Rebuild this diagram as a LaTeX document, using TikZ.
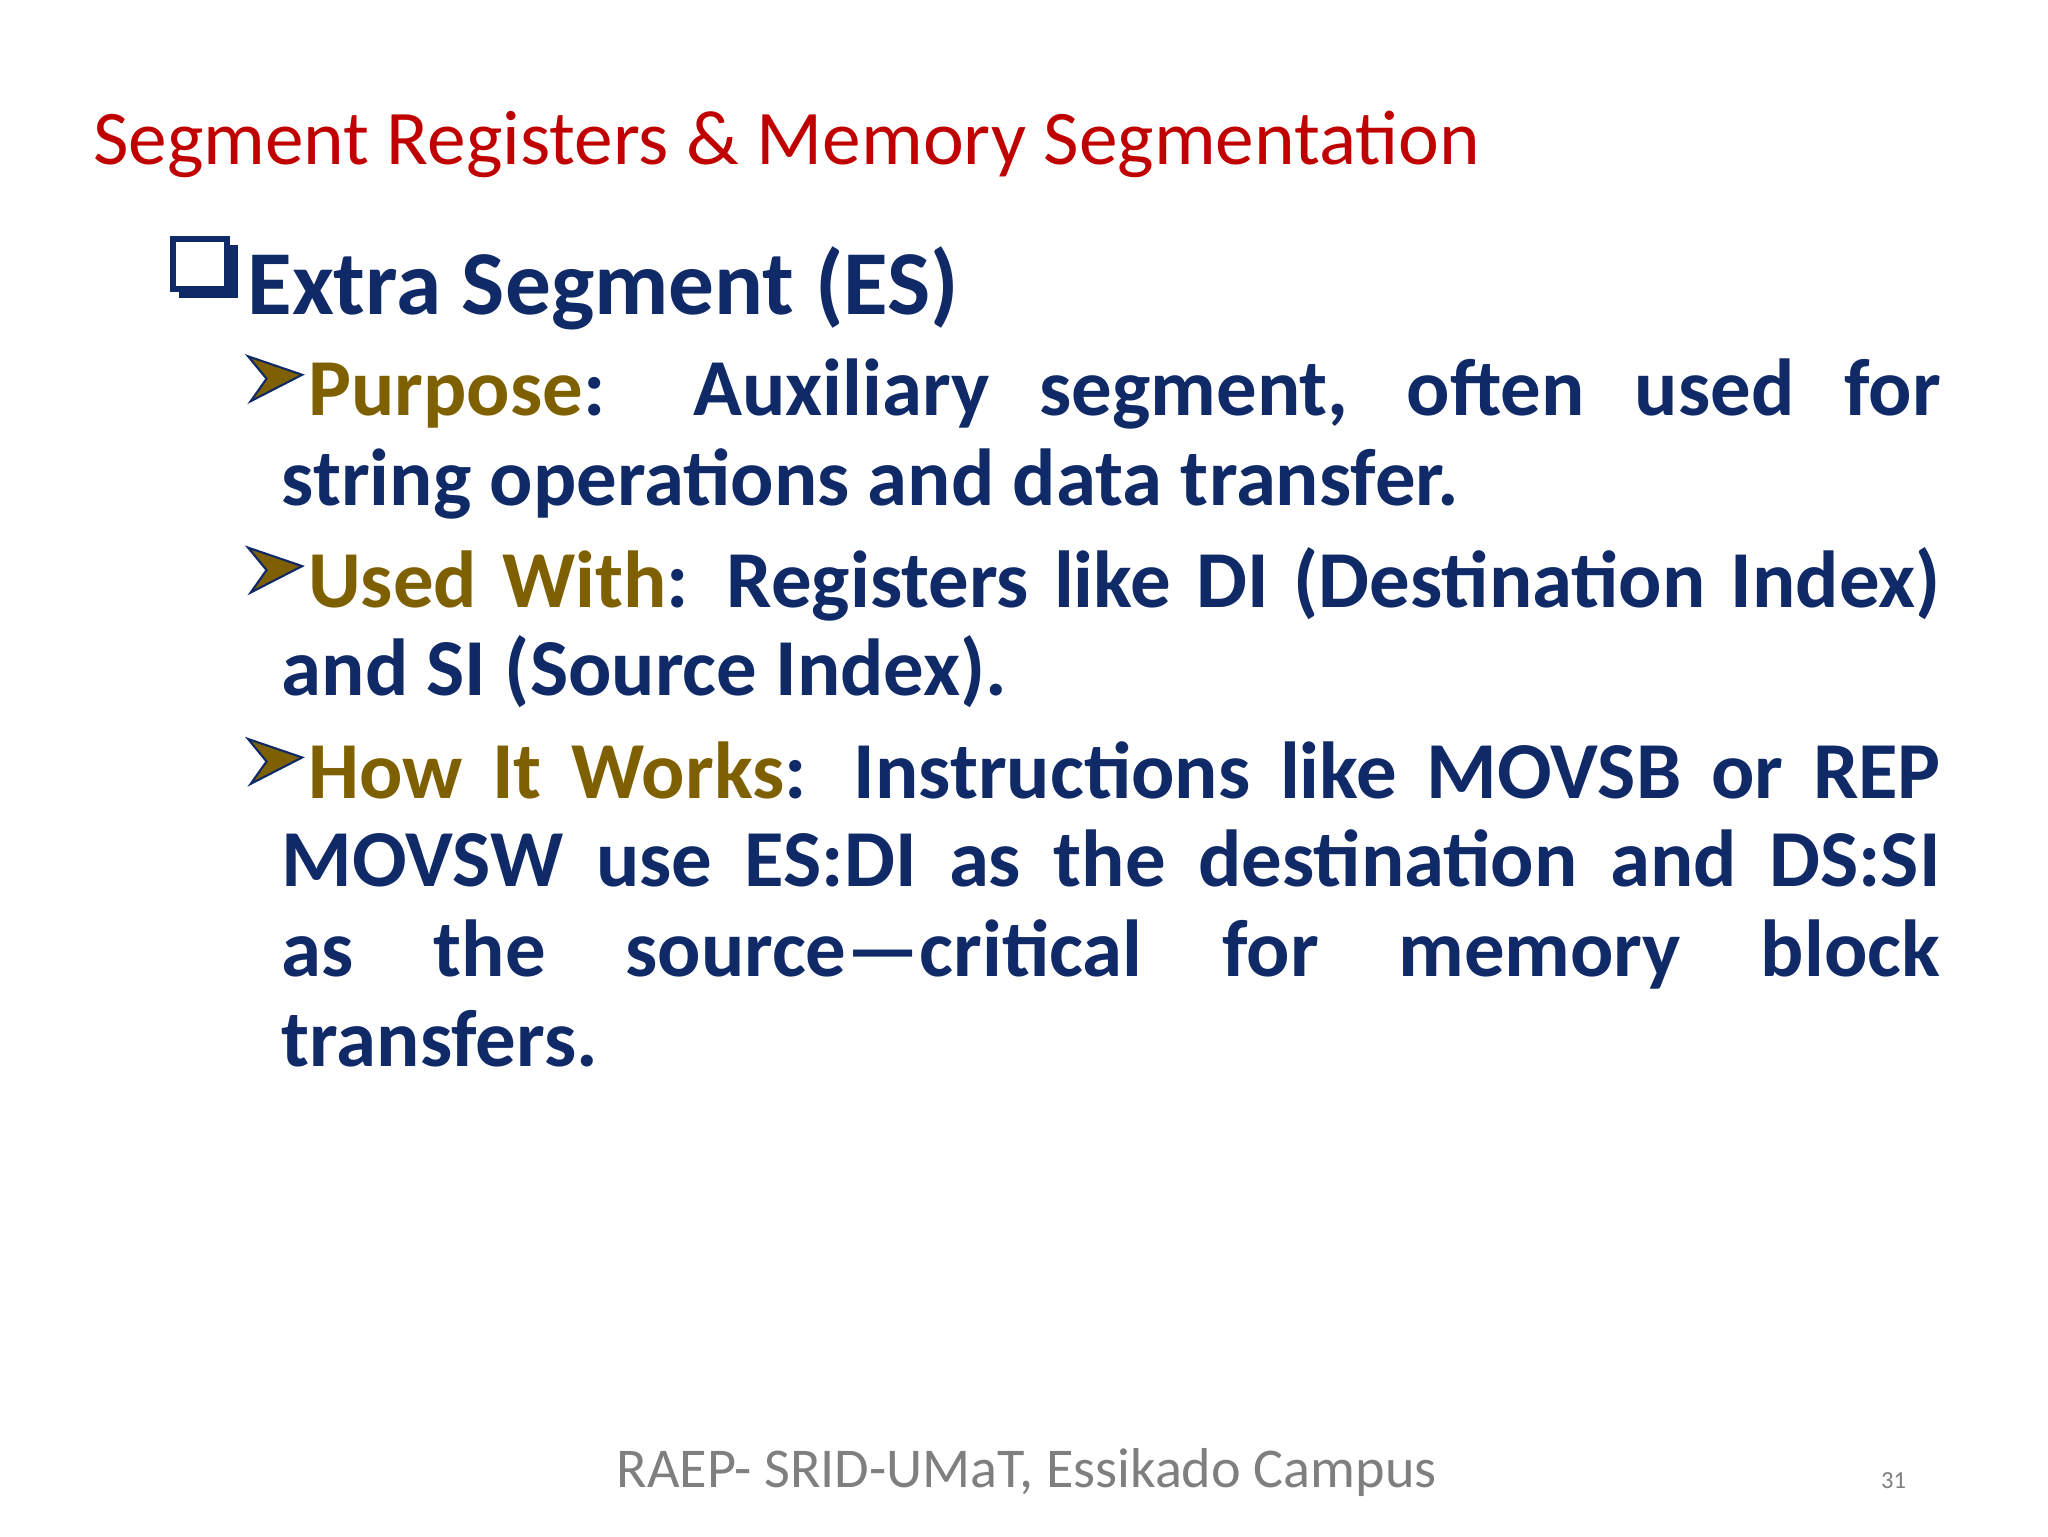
\documentclass[tikz,border=0pt]{standalone}
\usepackage{fontspec}
\setmainfont{Carlito}
\definecolor{navy}{HTML}{102A68}
\definecolor{olive}{HTML}{7F6000}
\definecolor{tred}{HTML}{C00000}
\definecolor{fgray}{HTML}{7F7F7F}
\newlength{\Wa}\setlength{\Wa}{16.33cm}
\newlength{\Wb}\setlength{\Wb}{16.59cm}
\tikzset{
  ln/.style={anchor=base west,inner sep=0pt,font=\fontsize{23}{25}\selectfont\bfseries,text=navy},
  arr/.style={fill=olive,draw=navy,line width=0.6pt,line join=miter}
}
\newcommand{\jl}[2]{\makebox[#1][s]{#2}}
\newcommand{\ol}[1]{\textcolor{olive}{#1}}
\begin{document}
\begin{tikzpicture}[x=0.0132cm,y=-0.0132cm]
\useasboundingbox (0,0) rectangle (1552,1164);
\node[anchor=base west,inner sep=0pt,font=\fontsize{22}{26}\selectfont,text=tred] (title) at (70,125) {Segment Registers \& Memory Segmentation};
% square bullet
\fill[navy] (136,186) rectangle (180,226);
\draw[navy,line width=1.6pt,fill=white] (131,181) rectangle (172,219);
\node[anchor=base west,inner sep=0pt,font=\fontsize{26}{30}\selectfont\bfseries,text=navy] (head) at (187,238) {Extra Segment (ES)};
% arrows
\foreach \y/\n in {270/a1,415/a2,560/a3}{
  \draw[arr] (188,\y) -- (229,\y+14) -- (190,\y+34) -- (202,\y+17) -- cycle;
}
\node[ln] (p1) at (233,315) {\jl{\Wa}{\ol{Purpose}: Auxiliary segment, often used for}};
\node[ln] (p2) at (213,383) {string operations and data transfer.};
\node[ln] (u1) at (233,460) {\jl{\Wa}{\ol{Used With}: Registers like DI (Destination Index)}};
\node[ln] (u2) at (213,527) {and SI (Source Index).};
\node[ln] (h1) at (233,605) {\jl{\Wa}{\ol{How It Works}: Instructions like MOVSB or REP}};
\node[ln] (h2) at (213,672) {\jl{\Wb}{MOVSW use ES:DI as the destination and DS:SI}};
\node[ln] (h3) at (213,740) {\jl{\Wb}{as the source—critical for memory block}};
\node[ln] (h4) at (213,808) {transfers.};
\node[anchor=base,inner sep=0pt,font=\fontsize{16}{18}\selectfont,text=fgray] (foot) at (778,1127) {RAEP- SRID-UMaT, Essikado Campus};
\node[anchor=base,inner sep=0pt,font=\fontsize{7}{8}\selectfont,text=fgray] (pg) at (1435,1128) {31};
\end{tikzpicture}
\end{document}
